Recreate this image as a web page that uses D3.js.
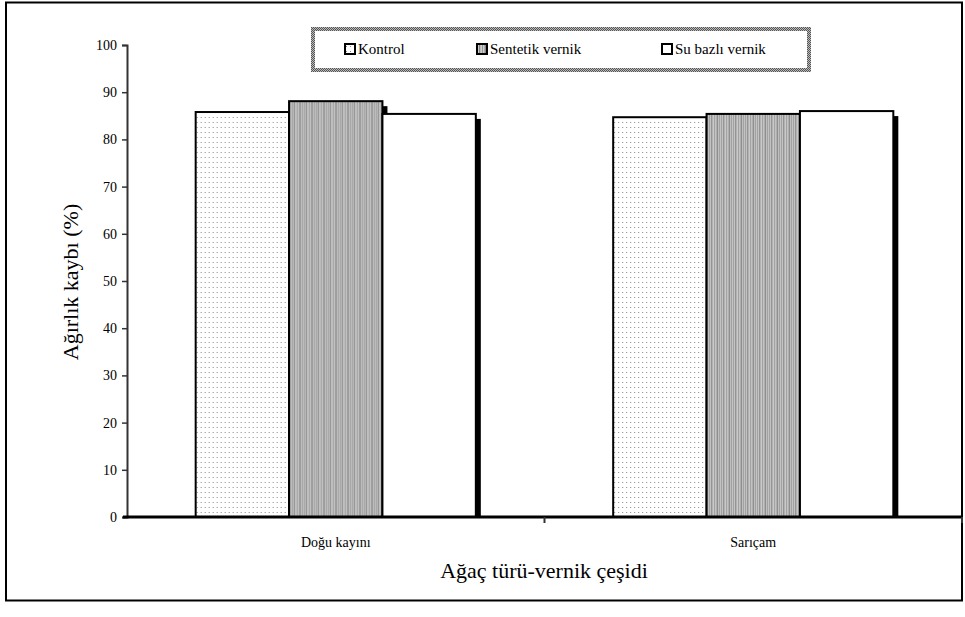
<!DOCTYPE html>
<html><head><meta charset="utf-8">
<script src="https://cdn.jsdelivr.net/npm/d3@7"></script>
</head><body style="margin:0;font-family:'Liberation Serif'"><svg id="c" width="965" height="617" font-family="Liberation Serif" style="font-family:'Liberation Serif'"></svg>
<script>
const categories = ["Doğu kayını", "Sarıçam"];
const series = ["Kontrol", "Sentetik vernik", "Su bazlı vernik"];
const kontrol = [85.8, 84.7];
const sentetik = [88.1, 85.4];
const suBazli = [85.4, 86.0];
const yTicks = [0,10,20,30,40,50,60,70,80,90,100];
const yTitle = "Ağırlık kaybı (%)";
const xTitle = "Ağaç türü-vernik çeşidi";

const values = [kontrol, sentetik, suBazli];
const svg = d3.select("#c");
const serif = sel => sel.attr("font-family","Liberation Serif").style("font-family","Liberation Serif");
const defs = svg.append("defs");
const pd = defs.append("pattern").attr("id","dots").attr("patternUnits","userSpaceOnUse").attr("width",4).attr("height",5);
pd.append("rect").attr("width",4).attr("height",5).attr("fill","#fff");
pd.append("rect").attr("x",1).attr("y",2).attr("width",1).attr("height",1).attr("fill","#888");
const ps = defs.append("pattern").attr("id","stripes").attr("patternUnits","userSpaceOnUse").attr("width",12).attr("height",4);
ps.append("rect").attr("width",12).attr("height",4).attr("fill","#ccc");
[[0,"#999"],[2,"#888"],[3,"#bbb"],[5,"#999"],[7,"#aaa"],[8,"#888"],[10,"#999"]].forEach(([x,c])=>ps.append("rect").attr("x",x).attr("width",1).attr("height",4).attr("fill",c));
const pb = defs.append("pattern").attr("id","check").attr("patternUnits","userSpaceOnUse").attr("width",2).attr("height",2);
pb.append("rect").attr("width",2).attr("height",2).attr("fill","#bbb");
pb.append("rect").attr("width",1).attr("height",1).attr("fill","#555");
pb.append("rect").attr("x",1).attr("y",1).attr("width",1).attr("height",1).attr("fill","#555");
const fills = ["url(#dots)","url(#stripes)","#fff"];

svg.append("rect").attr("x",6).attr("y",2.5).attr("width",956).attr("height",598).attr("fill","none").attr("stroke","#000").attr("stroke-width",2);

const pL=127, pR=962, pT=45, pB=517;
const y = d3.scaleLinear().domain([0,100]).range([pB,pT]);
const x0 = d3.scaleBand().domain(categories).range([pL,pR]).padding(0);
const gw = x0.bandwidth()*0.671;
const x1 = d3.scaleBand().domain(series).range([0,gw]).padding(0);

const groups = svg.append("g").selectAll("g").data(categories).join("g")
  .attr("transform",c=>`translate(${x0(c)+(x0.bandwidth()-gw)/2},0)`);
groups.each(function(c,i){
  const g=d3.select(this);
  const d=series.map((s,j)=>({s,j,v:values[j][i]}));
  g.selectAll(".sh").data(d).join("rect").attr("class","sh")
    .attr("x",b=>x1(b.s)+5).attr("y",b=>y(b.v)+5).attr("width",x1.bandwidth()).attr("height",b=>pB-y(b.v)-5).attr("fill","#000");
  g.selectAll(".bar").data(d).join("rect").attr("class","bar")
    .attr("x",b=>x1(b.s)).attr("y",b=>y(b.v)).attr("width",x1.bandwidth()).attr("height",b=>pB-y(b.v))
    .attr("fill",b=>fills[b.j]).attr("stroke","#000").attr("stroke-width",2);
});

const ya = svg.append("g").attr("transform",`translate(${pL},0)`)
  .call(d3.axisLeft(y).tickValues(yTicks).tickSize(5).tickPadding(5));
serif(ya);
ya.select(".domain").attr("stroke","#333").attr("stroke-width",2);
ya.selectAll(".tick line").attr("stroke","#333").attr("stroke-width",1.5);
serif(ya.selectAll("text")).style("font-size","14px").attr("fill","#000");

const xa = svg.append("g").attr("transform",`translate(0,${pB})`);
xa.append("line").attr("x1",pL-4).attr("x2",pR).attr("y1",0).attr("y2",0).attr("stroke","#000").attr("stroke-width",3);
const bounds = categories.map(c=>x0(c)+x0.bandwidth());
xa.selectAll(".xt").data(bounds).join("line").attr("x1",d=>d).attr("x2",d=>d).attr("y1",0).attr("y2",6).attr("stroke","#333").attr("stroke-width",2);
serif(xa.selectAll(".xl").data(categories).join("text")).attr("x",c=>x0(c)+x0.bandwidth()/2).attr("y",30)
  .attr("text-anchor","middle").style("font-size","14px").text(c=>c);

serif(svg.append("text")).attr("transform","translate(78,282) rotate(-90)").attr("text-anchor","middle").style("font-size","22px").text(yTitle);
serif(svg.append("text")).attr("x",544).attr("y",578).attr("text-anchor","middle").style("font-size","22px").text(xTitle);

svg.append("rect").attr("x",313).attr("y",29).attr("width",496).attr("height",41).attr("fill","#fff").attr("stroke","url(#check)").attr("stroke-width",4);
const legX = [345, 477, 662];
const lg = svg.append("g").selectAll("g").data(series).join("g").attr("transform",(s,i)=>`translate(${legX[i]},44)`);
lg.append("rect").attr("x",0).attr("y",0).attr("width",10).attr("height",10).attr("fill",(s,i)=>fills[i]).attr("stroke","#000").attr("stroke-width",2);
serif(lg.append("text")).attr("x",13).attr("y",10).style("font-size","15px").text(s=>s);
</script></body></html>
